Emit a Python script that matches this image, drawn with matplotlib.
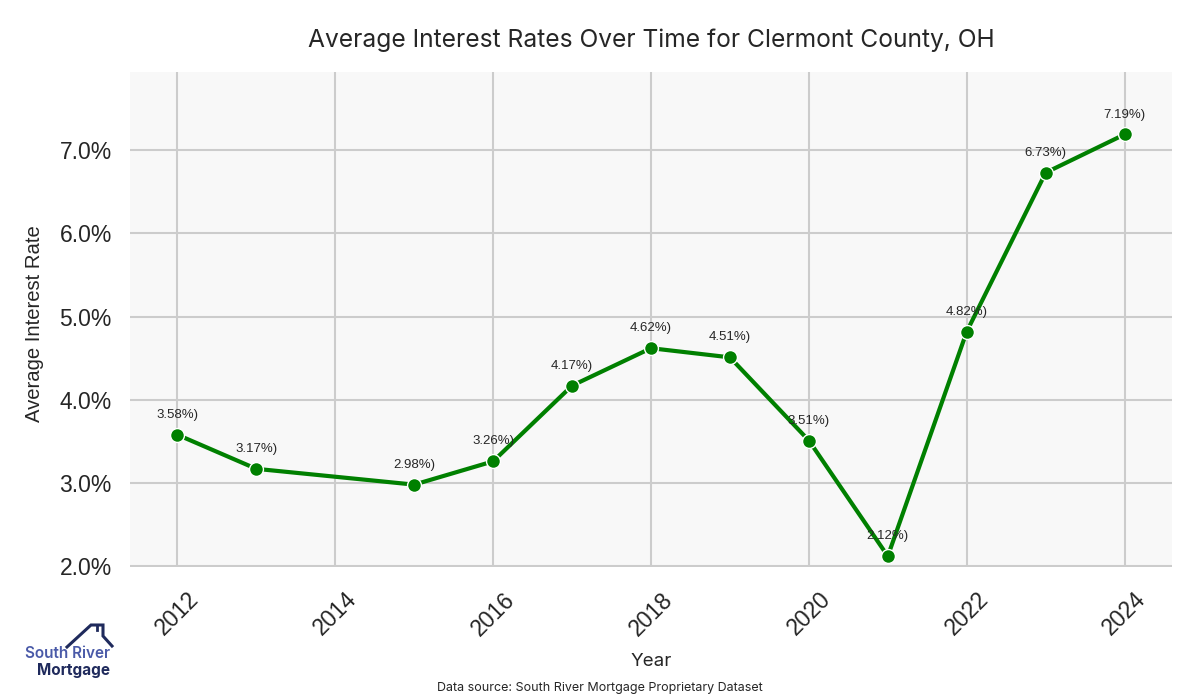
import matplotlib
matplotlib.use("Agg")
import matplotlib.pyplot as plt
from matplotlib.lines import Line2D
from matplotlib.ticker import FuncFormatter

years = [2012, 2013, 2015, 2016, 2017, 2018, 2019, 2020, 2021, 2022, 2023, 2024]
rates = [3.58, 3.17, 2.98, 3.26, 4.17, 4.62, 4.51, 3.51, 2.12, 4.82, 6.73, 7.19]
x_ticks = [2012, 2014, 2016, 2018, 2020, 2022, 2024]
y_ticks = [2.0, 3.0, 4.0, 5.0, 6.0, 7.0]

title = "Average Interest Rates Over Time for Clermont County, OH"
source = "Data source: South River Mortgage Proprietary Dataset"

TEXT = "#262626"
fig = plt.figure(figsize=(12, 7), dpi=100)
ax = fig.add_axes([130/1200, 1-567/700, (1172-130)/1200, (567-72)/700])
ax.set_facecolor("#f8f8f8")
for s in ax.spines.values():
    s.set_visible(False)
ax.grid(True, color="#cccccc", linewidth=1.5)
ax.set_axisbelow(True)

ax.plot(years, rates, color="green", linewidth=3, marker="o", markersize=10,
        markeredgecolor="white", markeredgewidth=1, zorder=3)
for x, y in zip(years, rates):
    ax.annotate(f"{y:.2f}%)", (x, y), xytext=(0, 10), textcoords="offset points",
                ha="center", va="bottom", fontsize=9.5, color=TEXT,
                family="Liberation Sans", zorder=4)

ax.set_ylim(1.99, 7.94)
ax.set_xlim(2011.4, 2024.6)
ax.set_xticks(x_ticks)
ax.set_yticks(y_ticks)
ax.yaxis.set_major_formatter(FuncFormatter(lambda v, p: f"{v:.1f}%"))
ax.tick_params(axis="both", length=0, labelsize=16.5, colors=TEXT)
ax.tick_params(axis="x", pad=15)
ax.tick_params(axis="y", pad=13)
for lab in ax.get_xticklabels() + ax.get_yticklabels():
    lab.set_family("Liberation Sans")
for lab in ax.get_xticklabels():
    lab.set_rotation(45)

fig.text(35/1200, 1-324/700, "Average Interest Rate", rotation=90, ha="center", va="center",
         fontsize=14.6, color=TEXT, family="Liberation Sans")
fig.text(651/1200, 1-662/700, "Year", ha="center", va="center", fontsize=13.5,
         color=TEXT, family="Inter")
fig.text(600/1200, 1-688/700, source, ha="center", va="center", fontsize=9,
         color=TEXT, family="Inter")
fig.text(651/1200, 1-40/700, title, ha="center", va="center", fontsize=17.7,
         color=TEXT, family="Inter")

# logo
def px(x, y):
    return (x/1200, 1-y/700)
NAVY = "#1f2a5c"
roof = [(67, 647), (91, 625), (103, 625), (103, 636), (112, 646)]
fig.add_artist(Line2D([px(*p)[0] for p in roof], [px(*p)[1] for p in roof],
                      color=NAVY, linewidth=2.2, solid_joinstyle="miter"))
chim = [(97, 625), (97, 630)]
fig.add_artist(Line2D([px(*p)[0] for p in chim], [px(*p)[1] for p in chim],
                      color=NAVY, linewidth=2.0))
fig.text(px(110, 653)[0], px(110, 653)[1], "South River", ha="right", va="center",
         fontsize=11, color="#4a5aa8", family="Inter", fontweight="semibold")
fig.text(px(110, 670)[0], px(110, 670)[1], "Mortgage", ha="right", va="center",
         fontsize=11, color=NAVY, family="Inter", fontweight="bold")

fig.savefig("out.png", dpi=100)
